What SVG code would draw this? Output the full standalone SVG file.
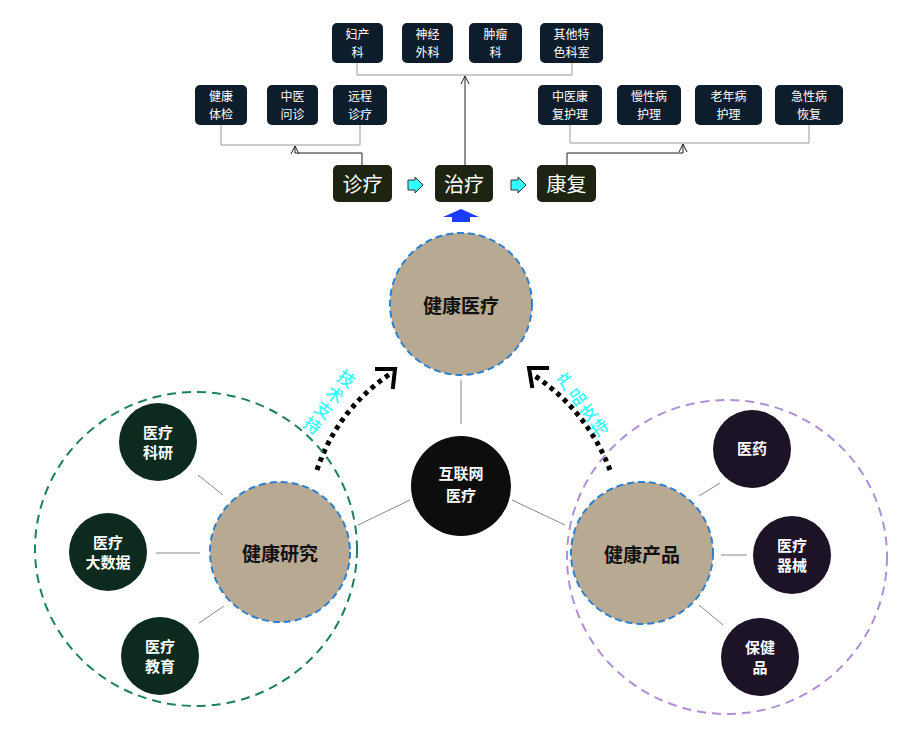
<svg xmlns="http://www.w3.org/2000/svg" width="922" height="729" viewBox="0 0 922 729">
<style>
.tb{fill:#0e1d2b}
.mb{fill:#1d2411}
.t13{font-family:"Noto Sans CJK SC","Noto Sans",sans-serif;font-size:12px;fill:#fff;text-anchor:middle}
.t20{font-family:"Noto Sans CJK SC","Noto Sans",sans-serif;font-size:20px;fill:#fff;text-anchor:middle;dominant-baseline:central}
.cw{font-family:"Noto Sans CJK SC","Noto Sans",sans-serif;font-size:15px;font-weight:bold;fill:#fff;text-anchor:middle}
.cb{font-family:"Noto Sans CJK SC","Noto Sans",sans-serif;font-size:19px;font-weight:bold;fill:#111;text-anchor:middle;dominant-baseline:central}
.cy{font-family:"Noto Sans CJK SC","Noto Sans",sans-serif;font-size:17px;font-weight:500;fill:#3ff;text-anchor:middle;dominant-baseline:central}
.gl{stroke:#999;stroke-width:1;fill:none}
.bl{stroke:#222;stroke-width:1;fill:none}
.thin{stroke:#888;stroke-width:1}
.main{fill:#b8a993;stroke:#2e80cc;stroke-width:2;stroke-dasharray:7 4}
.sg{fill:#0c2a1e}
.sp{fill:#1c1326}
.dot{fill:none;stroke:#000;stroke-width:5;stroke-dasharray:4.5 4.5}
.chev{fill:none;stroke:#000;stroke-width:4;stroke-linecap:square;stroke-linejoin:miter}
.ca{fill:#33ffff;stroke:#333;stroke-width:1}
</style>
<defs>
<marker id="oa" markerWidth="10" markerHeight="10" refX="9" refY="5" orient="auto" markerUnits="userSpaceOnUse">
<path d="M1,1 L9,5 L1,9" fill="none" stroke="#222" stroke-width="1"/>
</marker>
</defs>
<rect width="922" height="729" fill="#fff"/>

<g id="connectors">
<polyline class="gl" points="357,63 357,75 572,75 572,63"/>
<line class="bl" x1="465" y1="165" x2="465" y2="76" marker-end="url(#oa)"/>
<polyline class="gl" points="221,125 221,145 360,145 360,125"/>
<polyline class="bl" points="362,165 362,153 295,153 295,146" marker-end="url(#oa)"/>
<polyline class="gl" points="570,124 570,143 809,143 809,124"/>
<polyline class="bl" points="567,165 567,153 683,153 683,144" marker-end="url(#oa)"/>
<line class="thin" x1="461" y1="380" x2="461" y2="424"/>
<line class="thin" x1="358" y1="525" x2="410" y2="500"/>
<line class="thin" x1="512" y1="500" x2="565" y2="525"/>
<line class="thin" x1="198" y1="475" x2="223" y2="495"/>
<line class="thin" x1="156" y1="553" x2="200" y2="553"/>
<line class="thin" x1="199" y1="623" x2="224" y2="606"/>
<line class="thin" x1="699" y1="496" x2="720" y2="483"/>
<line class="thin" x1="721" y1="555" x2="747" y2="555"/>
<line class="thin" x1="699" y1="605" x2="723" y2="625"/>
<path class="dot" d="M317,470 Q337,410 390,374"/>
<polyline class="chev" points="377,369 395,369 393,387"/>
<path class="dot" d="M610,470 Q587,410 532,374"/>
<polyline class="chev" points="547,368 529,368 532,386"/>
<polygon class="ca" points="408,180 415,180 415,177 423,185 415,193 415,190 408,190"/>
<polygon class="ca" points="511,180 518,180 518,177 526,185 518,193 518,190 511,190"/>
<polygon fill="#1a3cff" points="461,209 479,217 470,217 470,222 452,222 452,217 443,217"/>
</g>

<g id="n-fuchan"><rect class="tb" x="332" y="23" width="51" height="40" rx="5"/><text class="t13" x="357.5" y="38.5">妇产<tspan x="357.5" dy="18">科</tspan></text></g>
<g id="n-shenjing"><rect class="tb" x="402" y="23" width="51" height="40" rx="5"/><text class="t13" x="427.5" y="38.5">神经<tspan x="427.5" dy="18">外科</tspan></text></g>
<g id="n-zhongliu"><rect class="tb" x="469" y="23" width="53" height="40" rx="5"/><text class="t13" x="495.5" y="38.5">肿瘤<tspan x="495.5" dy="18">科</tspan></text></g>
<g id="n-qita"><rect class="tb" x="540" y="23" width="63" height="40" rx="5"/><text class="t13" x="571.5" y="38.5">其他特<tspan x="571.5" dy="18">色科室</tspan></text></g>

<g id="n-tijian"><rect class="tb" x="195" y="85" width="52" height="40" rx="5"/><text class="t13" x="221" y="100.5">健康<tspan x="221" dy="18">体检</tspan></text></g>
<g id="n-wenzhen"><rect class="tb" x="267" y="85" width="51" height="40" rx="5"/><text class="t13" x="292.5" y="100.5">中医<tspan x="292.5" dy="18">问诊</tspan></text></g>
<g id="n-yuancheng"><rect class="tb" x="333" y="85" width="54" height="40" rx="5"/><text class="t13" x="360" y="100.5">远程<tspan x="360" dy="18">诊疗</tspan></text></g>

<g id="n-zykf"><rect class="tb" x="538" y="85" width="64" height="40" rx="5"/><text class="t13" x="570" y="100.5">中医康<tspan x="570" dy="18">复护理</tspan></text></g>
<g id="n-mxb"><rect class="tb" x="617" y="85" width="64" height="40" rx="5"/><text class="t13" x="649" y="100.5">慢性病<tspan x="649" dy="18">护理</tspan></text></g>
<g id="n-lnb"><rect class="tb" x="695" y="85" width="67" height="40" rx="5"/><text class="t13" x="728.5" y="100.5">老年病<tspan x="728.5" dy="18">护理</tspan></text></g>
<g id="n-jxb"><rect class="tb" x="775" y="85" width="68" height="40" rx="5"/><text class="t13" x="809" y="100.5">急性病<tspan x="809" dy="18">恢复</tspan></text></g>

<g id="n-zhenliao"><rect class="mb" x="333" y="165" width="59" height="37" rx="5"/><text class="t20" x="362.5" y="183.5">诊疗</text></g>
<g id="n-zhiliao"><rect class="mb" x="435" y="165" width="58" height="37" rx="5"/><text class="t20" x="464" y="183.5">治疗</text></g>
<g id="n-kangfu"><rect class="mb" x="537" y="165" width="59" height="37" rx="5"/><text class="t20" x="566.5" y="183.5">康复</text></g>

<g id="ring-left"><ellipse cx="196" cy="549" rx="161" ry="157" fill="none" stroke="#1a8060" stroke-width="2" stroke-dasharray="9 6"/></g>
<g id="ring-right"><ellipse cx="727" cy="557" rx="160" ry="157" fill="none" stroke="#b08fd6" stroke-width="2" stroke-dasharray="9 6"/></g>

<g id="n-jkyl"><circle class="main" cx="461" cy="304" r="71"/><text class="cb" x="461" y="304">健康医疗</text></g>
<g id="n-hlw"><circle cx="461" cy="486" r="50" fill="#0d0d0d"/><text class="cw" x="461" y="479" font-size="17">互联网<tspan x="461" dy="22">医疗</tspan></text></g>
<g id="n-jkyj"><circle class="main" cx="280" cy="552" r="70"/><text class="cb" x="280" y="552">健康研究</text></g>
<g id="n-jkcp"><circle class="main" cx="642" cy="553" r="71"/><text class="cb" x="642" y="553">健康产品</text></g>

<g id="n-kyan"><circle class="sg" cx="158" cy="442" r="39"/><text class="cw" x="158" y="438">医疗<tspan x="158" dy="20">科研</tspan></text></g>
<g id="n-dsj"><circle class="sg" cx="108" cy="552" r="39"/><text class="cw" x="108" y="548">医疗<tspan x="108" dy="20">大数据</tspan></text></g>
<g id="n-jy"><circle class="sg" cx="160" cy="656" r="39"/><text class="cw" x="160" y="652">医疗<tspan x="160" dy="20">教育</tspan></text></g>

<g id="n-yy"><circle class="sp" cx="752" cy="449" r="39"/><text class="cw" x="752" y="454">医药</text></g>
<g id="n-qx"><circle class="sp" cx="792" cy="555" r="39"/><text class="cw" x="792" y="551">医疗<tspan x="792" dy="20">器械</tspan></text></g>
<g id="n-bjp"><circle class="sp" cx="760" cy="657" r="39"/><text class="cw" x="760" y="653">保健<tspan x="760" dy="20">品</tspan></text></g>

<g id="label-left" transform="translate(347,378) rotate(36)">
<text class="cy" x="0" y="0">技<tspan x="0" dy="19">术</tspan><tspan x="0" dy="19">支</tspan><tspan x="0" dy="19">持</tspan></text>
</g>
<g id="label-right" transform="translate(565,380) rotate(-36)">
<text class="cy" x="0" y="0">产<tspan x="0" dy="19">品</tspan><tspan x="0" dy="19">支</tspan><tspan x="0" dy="19">持</tspan></text>
</g>
</svg>
